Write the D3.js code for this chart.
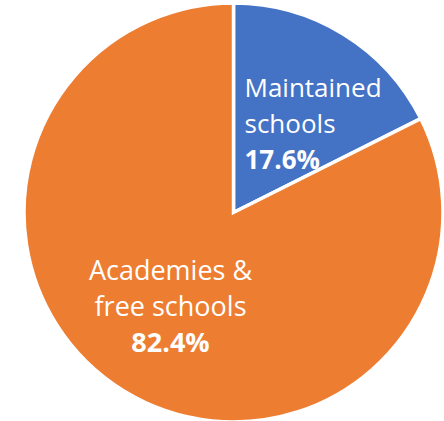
<!DOCTYPE html>
<html>
<head>
<meta charset="utf-8">
<script src="https://cdn.jsdelivr.net/npm/d3@7"></script>
<style>
    html, body { margin: 0; padding: 0; background: #fff; }
    svg { display: block; }
</style>
</head>
<body>
<svg id="chart"></svg>
<script>
// Chart data
const categories = ['Maintained schools', 'Academies & free schools'];
const values = [17.6, 82.4];
const labelLines = [['Maintained', 'schools'], ['Academies &', 'free schools']];
const colors = ['#4472C4', '#ED7D31'];

const width = 444,
      height = 421,
      cx = 233.5,
      cy = 212.5,
      radius = 209.5;

const svg = d3.select('#chart')
    .attr('width', width)
    .attr('height', height);

const pie = d3.pie()
    .value(d => d)
    .sort(null);

const arc = d3.arc()
    .innerRadius(0)
    .outerRadius(radius);

const g = svg.append('g')
    .attr('transform', 'translate(' + cx + ',' + cy + ')');

const slices = pie(values);

g.selectAll('path')
    .data(slices)
    .enter()
    .append('path')
    .attr('d', arc)
    .attr('fill', (d, i) => colors[i])
    .attr('stroke', '#fff')
    .attr('stroke-width', 3.5)
    .attr('stroke-linejoin', 'miter');

// Label anchors (offset from the pie centre), alignment and size per slice
const labelPos = [
    { x: 11, y: -115.5, anchor: 'start', size: 26 },
    { x: -63, y: 67.5, anchor: 'middle', size: 27 }
];
const lineGap = 36;

slices.forEach((d, i) => {
    const t = g.append('text')
        .attr('x', labelPos[i].x)
        .attr('y', labelPos[i].y)
        .attr('text-anchor', labelPos[i].anchor)
        .attr('fill', '#fff')
        .style('font-family', '"Open Sans", sans-serif')
        .style('font-size', labelPos[i].size + 'px');
    labelLines[i].forEach((line, j) => {
        t.append('tspan')
            .attr('x', labelPos[i].x)
            .attr('y', labelPos[i].y + j * lineGap)
            .text(line);
    });
    t.append('tspan')
        .attr('x', labelPos[i].x)
        .attr('y', labelPos[i].y + labelLines[i].length * lineGap)
        .style('font-weight', 'bold')
        .text(d.data.toFixed(1) + '%');
});
</script>
</body>
</html>
